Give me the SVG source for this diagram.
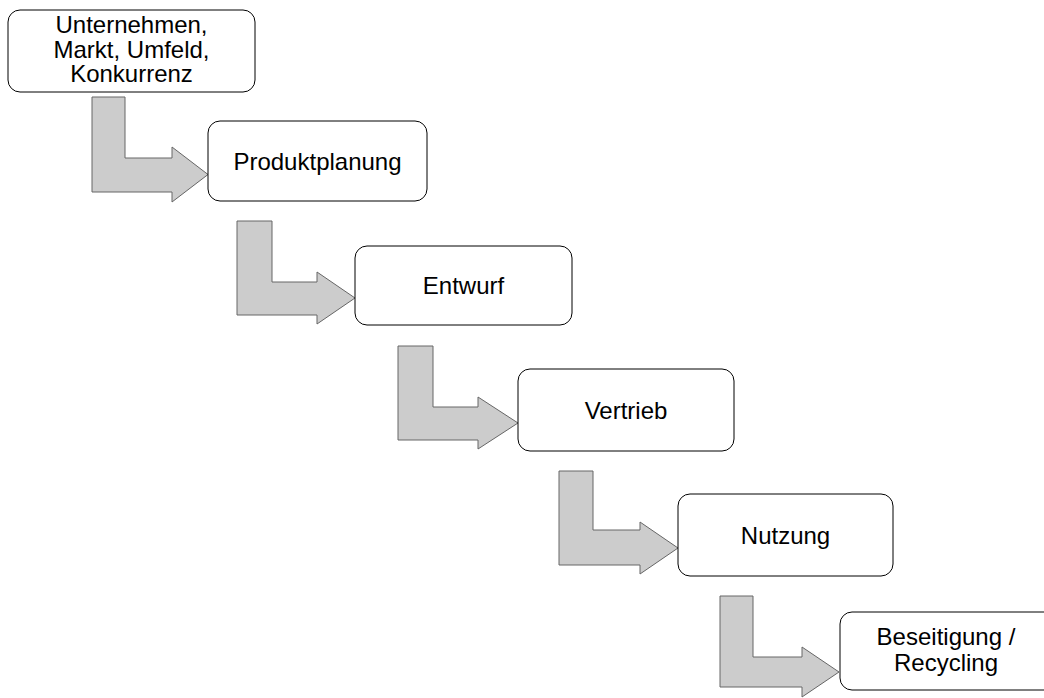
<svg xmlns="http://www.w3.org/2000/svg" width="1044" height="698" viewBox="0 0 1044 698">
  <style>
    .box { fill: #ffffff; stroke: #000000; stroke-width: 1; }
    .step { fill: #cccccc; stroke: #666666; stroke-width: 1; stroke-linejoin: miter; }
    .label { font-family: "Liberation Sans", Arial, sans-serif; font-size: 24px; fill: #000000; text-anchor: middle; }
  </style>
  <rect width="1044" height="698" fill="#ffffff"/>

  <!-- L-shaped step arrows between the phases -->
  <g id="connectors">
    <polygon class="step" points="92,97 125,97 125,158 172,158 172,147 208,174.5 172,202 172,192 92,192"/>
    <polygon class="step" points="237,221 272,221 272,282 317,282 317,272 355,298 317,324 317,315 237,315"/>
    <polygon class="step" points="398,346 433,346 433,407 478,407 478,397 518,423 478,449 478,440 398,440"/>
    <polygon class="step" points="559,471 593,471 593,530 640,530 640,522 678,548 640,574 640,565 559,565"/>
    <polygon class="step" points="720,596 753,596 753,657 802,657 802,647 839,672 802,697 802,687 720,687"/>
  </g>

  <g id="umfeld">
    <rect class="box" x="8" y="10" width="247" height="82" rx="12" ry="12"/>
    <text class="label" x="131.5" y="33">Unternehmen,<tspan x="131.5" dy="24.5">Markt, Umfeld,</tspan><tspan x="131.5" dy="24.5">Konkurrenz</tspan></text>
  </g>

  <g id="produktplanung">
    <rect class="box" x="208" y="121" width="219" height="80" rx="12" ry="12"/>
    <text class="label" x="317.5" y="169.5">Produktplanung</text>
  </g>

  <g id="entwurf">
    <rect class="box" x="355" y="246" width="217" height="79" rx="12" ry="12"/>
    <text class="label" x="463.5" y="294">Entwurf</text>
  </g>

  <g id="vertrieb">
    <rect class="box" x="518" y="369" width="216" height="82" rx="12" ry="12"/>
    <text class="label" x="626" y="418.5">Vertrieb</text>
  </g>

  <g id="nutzung">
    <rect class="box" x="678" y="494" width="215" height="82" rx="12" ry="12"/>
    <text class="label" x="785.5" y="543.5">Nutzung</text>
  </g>

  <g id="beseitigung">
    <rect class="box" x="840" y="612" width="216" height="78" rx="12" ry="12"/>
    <text class="label" x="946" y="645">Beseitigung /<tspan x="946" dy="25.5">Recycling</tspan></text>
  </g>
</svg>
